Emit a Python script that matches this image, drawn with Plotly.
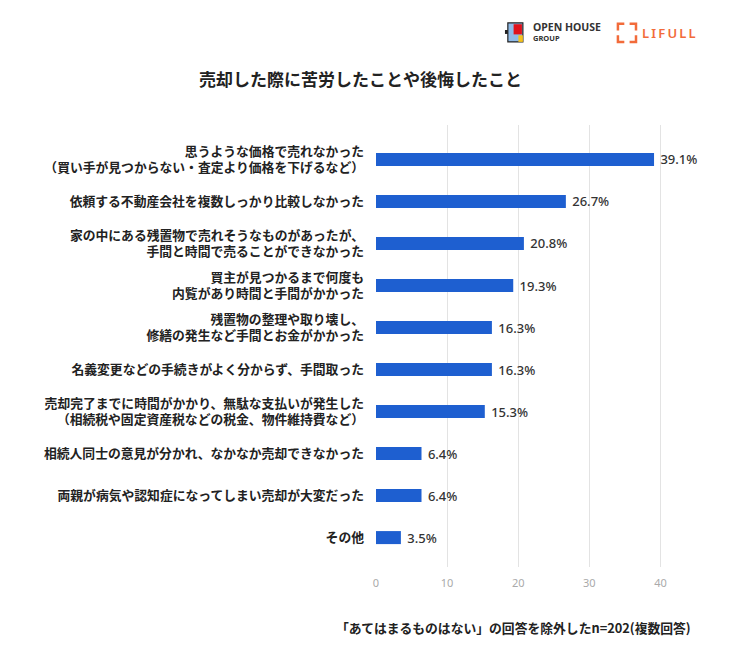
import plotly.graph_objects as go

# 売却した際に苦労したことや後悔したこと
categories = [
    "思うような価格で売れなかった<br>（買い手が見つからない・査定より価格を下げるなど）",
    "依頼する不動産会社を複数しっかり比較しなかった",
    "家の中にある残置物で売れそうなものがあったが、<br>手間と時間で売ることができなかった",
    "買主が見つかるまで何度も<br>内覧があり時間と手間がかかった",
    "残置物の整理や取り壊し、<br>修繕の発生など手間とお金がかかった",
    "名義変更などの手続きがよく分からず、手間取った",
    "売却完了までに時間がかかり、無駄な支払いが発生した<br>（相続税や固定資産税などの税金、物件維持費など）",
    "相続人同士の意見が分かれ、なかなか売却できなかった",
    "両親が病気や認知症になってしまい売却が大変だった",
    "その他",
]
values = [39.1, 26.7, 20.8, 19.3, 16.3, 16.3, 15.3, 6.4, 6.4, 3.5]
x_ticks = [0, 10, 20, 30, 40]

FONT = "Noto Sans CJK JP"
BAR_COLOR = "#1e5fd0"
ORANGE = "#f26b3a"

fig = go.Figure()
fig.add_trace(go.Bar(
    x=values,
    y=categories,
    orientation="h",
    width=0.31,
    marker=dict(color=BAR_COLOR, line=dict(width=0)),
    text=[f" {v}%" for v in values],
    textposition="outside",
    constraintext="none",
    textfont=dict(family="Noto Sans", size=13, color="#333333", weight=500),
    cliponaxis=False,
    hoverinfo="skip",
))

fig.update_layout(
    width=750, height=666,
    margin=dict(l=368, r=62, t=117, b=107),
    paper_bgcolor="white",
    plot_bgcolor="white",
    showlegend=False,
    font=dict(family=FONT),
    xaxis=dict(
        range=[0, 45],
        tickvals=x_ticks,
        showgrid=True,
        gridcolor="#e3e3e3",
        gridwidth=1,
        zeroline=False,
        showline=False,
        tickfont=dict(family="Noto Sans", size=11, color="#aaaaaa"),
        ticks="",
        ticklabelstandoff=8,
    ),
    yaxis=dict(
        type="category",
        range=[9.7, -0.82],
        showgrid=False,
        zeroline=False,
        showline=False,
        ticks="",
        tickfont=dict(family=FONT, size=12.8, color="#222222", weight="bold"),
        ticklabelstandoff=11,
    ),
)

# タイトル
fig.add_annotation(
    text="<b>売却した際に苦労したことや後悔したこと</b>",
    xref="paper", yref="paper", x=-0.05, y=1.106,
    xanchor="center", yanchor="middle", showarrow=False,
    font=dict(family=FONT, size=17, color="#222222"),
)

# 注記
fig.add_annotation(
    text="<b>「あてはまるものはない」の回答を除外したn=202(複数回答)</b>",
    xref="paper", yref="paper", x=0.99, y=-0.138,
    xanchor="right", yanchor="middle", showarrow=False,
    font=dict(family=FONT, size=12.8, color="#222222"),
)

# ロゴ OPEN HOUSE GROUP
fig.add_shape(type="rect", xref="paper", yref="paper",
              x0=0.412, x1=0.459, y0=1.188, y1=1.231,
              line=dict(color="#222222", width=1.2), fillcolor="#8fbbe8")
fig.add_shape(type="rect", xref="paper", yref="paper",
              x0=0.430, x1=0.456, y0=1.205, y1=1.228,
              line=dict(width=0), fillcolor="#e0121b")
fig.add_shape(type="rect", xref="paper", yref="paper",
              x0=0.445, x1=0.459, y0=1.188, y1=1.203,
              line=dict(width=0), fillcolor="#f5c21b")
fig.add_shape(type="rect", xref="paper", yref="paper",
              x0=0.403, x1=0.412, y0=1.206, y1=1.215,
              line=dict(width=0), fillcolor="#222222")
fig.add_annotation(
    text="<b>OPEN HOUSE</b>", xref="paper", yref="paper", x=0.484, y=1.222,
    xanchor="left", yanchor="middle", showarrow=False,
    font=dict(family="Noto Sans", size=10.5, color="#333333"),
)
fig.add_annotation(
    text="<b>GROUP</b>", xref="paper", yref="paper", x=0.484, y=1.196,
    xanchor="left", yanchor="middle", showarrow=False,
    font=dict(family="Noto Sans", size=7.5, color="#333333"),
)

# ロゴ LIFULL
bx0, bx1, by0, by1 = 0.756, 0.8125, 1.188, 1.229
cx, cy = 0.02, 0.015
corners = [
    f"M {bx0} {by1 - cy} L {bx0} {by1} L {bx0 + cx} {by1}",
    f"M {bx1 - cx} {by1} L {bx1} {by1} L {bx1} {by1 - cy}",
    f"M {bx0} {by0 + cy} L {bx0} {by0} L {bx0 + cx} {by0}",
    f"M {bx1 - cx} {by0} L {bx1} {by0} L {bx1} {by0 + cy}",
]
for p in corners:
    fig.add_shape(type="path", xref="paper", yref="paper", path=p,
                  line=dict(color=ORANGE, width=2.5))
fig.add_annotation(
    text="L\u2009I\u2009F\u2009U\u2009L\u2009L", xref="paper", yref="paper", x=0.826, y=1.208,
    xanchor="left", yanchor="middle", showarrow=False,
    font=dict(family="Noto Sans", size=13, color=ORANGE, weight=600),
)

fig.write_html("out.html")
